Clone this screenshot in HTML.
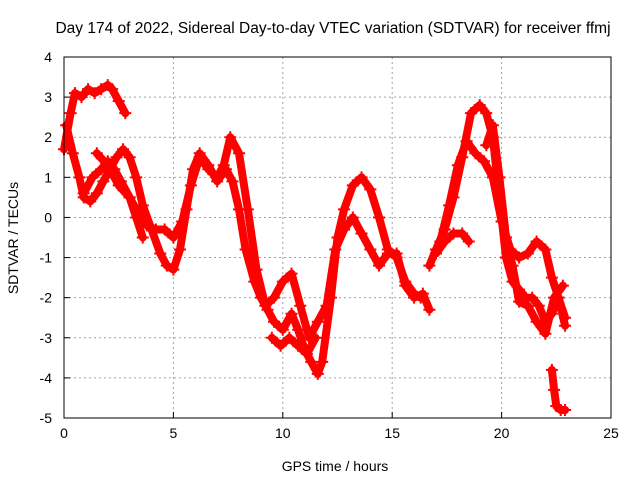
<!DOCTYPE html>
<html><head><meta charset="utf-8"><style>
body{margin:0;background:#fff}
svg{display:block;font-family:"Liberation Sans",sans-serif}
</style></head><body>
<svg id="chart" width="640" height="480" xmlns="http://www.w3.org/2000/svg">
<rect width="640" height="480" fill="#fff"/>
<text x="333" y="33" font-size="15.5" text-anchor="middle">Day 174 of 2022, Sidereal Day-to-day VTEC variation (SDTVAR) for receiver ffmj</text>
<text transform="translate(18,238) rotate(-90)" font-size="14" text-anchor="middle">SDTVAR / TECUs</text>
<text x="335" y="471" font-size="14" text-anchor="middle">GPS time / hours</text>
<g id="grid"></g>
<g id="ticks"></g>
<g id="series"></g>
<rect x="64" y="57" width="547" height="361" fill="none" stroke="#000" stroke-width="1"/>
</svg>
<script>
const xTicks=[0,5,10,15,20,25];
const yTicks=[4,3,2,1,0,-1,-2,-3,-4,-5];
const t1=[0,0.3,0.5,0.8,1.1,1.4,1.7,2.0,2.2,2.5,2.8];
const v1=[1.7,2.6,3.1,3.0,3.2,3.1,3.2,3.3,3.2,2.9,2.6];
const t2=[0.1,0.4,0.7,0.9,1.2,1.5,1.8,2.1,2.4,2.7,3.0,3.3,3.6,4.0,4.4,4.7,5.0,5.3,5.6,5.9,6.2,6.6,7.0,7.4,7.7,8.0,8.3,8.7,9.0,9.3,9.6,10.0,10.4,10.7,11.0,11.3,11.6,11.8,12.2,12.5,12.8,13.2,13.6,14.0,14.4,14.8,15.2,15.6,16.0,16.3];
const v2=[2.3,1.6,1.0,0.5,0.4,0.6,0.9,1.2,1.5,1.7,1.5,1.0,0.3,-0.3,-0.9,-1.2,-1.3,-0.8,0.2,1.2,1.6,1.3,0.9,1.2,0.9,0.2,-0.8,-1.6,-2.0,-2.3,-2.6,-2.8,-2.4,-2.8,-3.3,-3.6,-3.9,-3.6,-2.0,-0.5,0.2,0.8,1.0,0.7,0.0,-0.8,-1.0,-1.6,-1.9,-2.0];
const t3=[1.5,2.0,2.5,3.0,3.4,3.8,4.2,4.6,5.0,5.4,5.8,6.2,6.6,7.0,7.3,7.6,8.0,8.4,8.8,9.2,9.6,10.0,10.4,10.8,11.2,11.6,12.0,12.4,12.8,13.2,13.6,14.0,14.4,14.8,15.2,15.6,16.0,16.4,16.7];
const v3=[1.6,1.3,0.8,0.5,0.1,-0.2,-0.3,-0.3,-0.5,-0.1,0.8,1.5,1.2,1.0,1.3,2.0,1.6,0.2,-1.3,-2.2,-2.0,-1.6,-1.4,-2.2,-3.0,-2.6,-2.2,-0.8,-0.3,0.0,-0.4,-0.8,-1.2,-0.9,-0.9,-1.7,-2.0,-1.9,-2.3];
const t4=[0.9,1.3,1.7,2.0,2.3,2.6,3.0,3.3,3.6];
const v4=[0.6,1.0,1.2,1.4,1.2,0.9,0.5,0.0,-0.5];
const t5=[9.5,9.9,10.3,10.7,11.1,11.5];
const v5=[-3.0,-3.2,-3.0,-3.2,-3.4,-3.0];
const t6=[16.7,17.0,17.4,17.8,18.2,18.6,19.0,19.3,19.6,19.9,20.2,20.5,20.8,21.1,21.4,21.7,22.0,22.3,22.6,22.9];
const v6=[-1.2,-0.8,-0.3,0.5,1.5,2.6,2.8,2.6,2.0,0.5,-1.0,-1.6,-1.8,-2.0,-2.0,-2.2,-2.6,-2.4,-2.0,-2.5];
const t7=[17.2,17.6,18.0,18.4,18.8,19.2,19.6,20.0,20.4,20.8,21.2,21.6,22.0,22.3,22.6,22.9];
const v7=[-0.6,0.3,1.3,1.9,1.6,1.4,1.0,-0.1,-0.8,-1.0,-0.9,-0.6,-0.8,-1.5,-2.0,-2.7];
const t8=[17.0,17.4,17.8,18.2,18.5];
const v8=[-0.9,-0.6,-0.4,-0.4,-0.6];
const t9=[19.3,19.6,19.9,20.2,20.5,20.8,21.2,21.6,22.0,22.4,22.8];
const v9=[1.8,2.3,1.0,-0.5,-1.2,-2.1,-2.2,-2.6,-2.9,-2.0,-1.7];
const t10=[22.3,22.4,22.5,22.7,22.9];
const v10=[-3.8,-4.3,-4.7,-4.8,-4.8];
const seriesT=[t1,t2,t3,t4,t5,t6,t7,t8,t9,t10];
const seriesV=[v1,v2,v3,v4,v5,v6,v7,v8,v9,v10];

const X0=64,X1=611,Y0=57,Y1=418;
function xs(t){return X0+(t-0)/(25-0)*(X1-X0);}
function ys(v){return Y0+(4-v)/(4-(-5))*(Y1-Y0);}
const NS="http://www.w3.org/2000/svg";
const grid=document.getElementById('grid'),ticks=document.getElementById('ticks'),ser=document.getElementById('series');
function mk(tag,attrs,parent){const e=document.createElementNS(NS,tag);for(const k in attrs)e.setAttribute(k,attrs[k]);parent.appendChild(e);return e;}
xTicks.forEach(t=>{
  const x=xs(t);
  if(t>0&&t<25){const g=mk('line',{x1:x,x2:x,y1:Y0,y2:Y1,stroke:'#a0a0a0','stroke-dasharray':'2,3'},grid);
  
  }
  const tk=mk('line',{x1:x,x2:x,y1:Y1,y2:Y1-6,stroke:'#000'},ticks);
  
  
  const lb=mk('text',{x:x,y:Y1+20,'font-size':14,'text-anchor':'middle'},ticks);lb.textContent=t;
  
  
});
yTicks.forEach(v=>{
  const y=ys(v);
  if(v<4&&v>-5){const g=mk('line',{x1:X0,x2:X1,y1:y,y2:y,stroke:'#a0a0a0','stroke-dasharray':'2,3'},grid);
  
  }
  const tk=mk('line',{x1:X0,x2:X0+6,y1:y,y2:y,stroke:'#000'},ticks);
  
  
  const lb=mk('text',{x:X0-12,y:y+5,'font-size':14,'text-anchor':'end'},ticks);lb.textContent=v;
  
  
});
seriesT.forEach((ts,i)=>{
  const vs=seriesV[i];
  const pts=ts.map((t,j)=>xs(t).toFixed(1)+','+ys(vs[j]).toFixed(1)).join(' ');
  const pl=mk('polyline',{points:pts,fill:'none',stroke:'#ff0000','stroke-width':8,'stroke-linejoin':'round','stroke-linecap':'round'},ser);
  
  
  ts.forEach((t,j)=>{
    const x=xs(t),y=ys(vs[j]);
    const p=mk('path',{d:`M${x-6},${y}H${x+6}M${x},${y-6}V${y+6}`,stroke:'#ff0000','stroke-width':2},ser);
    
    
  });
});
</script>
</body></html>
